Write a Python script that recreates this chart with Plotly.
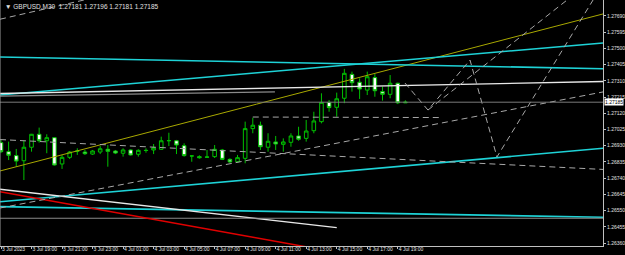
import plotly.graph_objects as go

# ---------------- data ----------------
symbol = "GBPUSD,M30"
bar_index = list(range(54))  # M30 bars from 3 Jul 2023 17:00 to 4 Jul 19:30
opens = [1.26948, 1.26895, 1.26872, 1.26842, 1.26921, 1.26997, 1.26959, 1.26977, 1.26823, 1.26862,
         1.26899, 1.26893, 1.26881, 1.26893, 1.26909, 1.26899, 1.26886, 1.26905, 1.26880, 1.26903,
         1.26905, 1.26909, 1.26959, 1.26959, 1.26930, 1.26870, 1.26866, 1.26864, 1.26866, 1.26905,
         1.26850, 1.26836, 1.26856, 1.27030, 1.27050, 1.26921, 1.26952, 1.26938, 1.26950, 1.26987,
         1.26973, 1.27018, 1.27071, 1.27184, 1.27155, 1.27208, 1.27348, 1.27302, 1.27256, 1.27329,
         1.27247, 1.27231, 1.27296, 1.27181]
highs = [1.26964, 1.26954, 1.26911, 1.26959, 1.26999, 1.27036, 1.26997, 1.26981, 1.26876, 1.26899,
         1.26915, 1.26905, 1.26905, 1.26928, 1.26934, 1.26905, 1.26915, 1.26909, 1.26909, 1.26915,
         1.26940, 1.26983, 1.27006, 1.26964, 1.26944, 1.26872, 1.26874, 1.26905, 1.26934, 1.26911,
         1.26856, 1.26876, 1.27071, 1.27094, 1.27071, 1.27003, 1.26987, 1.26973, 1.27003, 1.27041,
         1.27081, 1.27129, 1.27237, 1.27198, 1.27241, 1.27380, 1.27364, 1.27325, 1.27364, 1.27350,
         1.27276, 1.27344, 1.27299, 1.27196]
lows = [1.26887, 1.26846, 1.26807, 1.26729, 1.26895, 1.26948, 1.26886, 1.26814, 1.26794, 1.26852,
        1.26876, 1.26876, 1.26876, 1.26881, 1.26807, 1.26881, 1.26866, 1.26872, 1.26866, 1.26889,
        1.26881, 1.26905, 1.26928, 1.26881, 1.26866, 1.26836, 1.26854, 1.26860, 1.26858, 1.26846,
        1.26829, 1.26833, 1.26827, 1.27003, 1.26905, 1.26895, 1.26905, 1.26895, 1.26924, 1.26959,
        1.26954, 1.27003, 1.27061, 1.27129, 1.27100, 1.27179, 1.27247, 1.27204, 1.27227, 1.27217,
        1.27194, 1.27208, 1.27174, 1.27181]
closes = [1.26895, 1.26874, 1.26840, 1.26921, 1.26997, 1.26959, 1.26977, 1.26817, 1.26862, 1.26893,
          1.26898, 1.26883, 1.26899, 1.26912, 1.26897, 1.26887, 1.26905, 1.26876, 1.26903, 1.26902,
          1.26918, 1.26959, 1.26960, 1.26934, 1.26872, 1.26870, 1.26860, 1.26863, 1.26909, 1.26850,
          1.26835, 1.26860, 1.27030, 1.27050, 1.26924, 1.26956, 1.26940, 1.26952, 1.26987, 1.26968,
          1.27016, 1.27075, 1.27184, 1.27153, 1.27205, 1.27354, 1.27299, 1.27262, 1.27334, 1.27252,
          1.27231, 1.27296, 1.27181, 1.27185]

x_tick_bars = [0, 4, 8, 12, 16, 20, 24, 28, 32, 36, 40, 44, 48, 52]
x_tick_labels = ["3 Jul 2023", "3 Jul 19:00", "3 Jul 21:00", "3 Jul 23:00", "4 Jul 01:00",
                 "4 Jul 03:00", "4 Jul 05:00", "4 Jul 07:00", "4 Jul 09:00", "4 Jul 11:00",
                 "4 Jul 13:00", "4 Jul 15:00", "4 Jul 17:00", "4 Jul 19:00"]
y_tick_labels = ["1.27690", "1.27595", "1.27500", "1.27405", "1.27310", "1.27215", "1.27120",
                 "1.27025", "1.26930", "1.26835", "1.26740", "1.26645", "1.26550", "1.26455", "1.26360"]

# drawn objects: (bar index, price) endpoints
yellow_line = ([-0.13, 78.9], [1.26782, 1.27702])
cyan_lines = [([-0.13, 78.9], [1.27450, 1.27381]),
              ([-0.13, 78.9], [1.27227, 1.27532]),
              ([-0.13, 78.9], [1.26602, 1.26915]),
              ([-0.13, 78.9], [1.26573, 1.26511])]
white_lines = [([-0.13, 78.9], [1.27236, 1.27306]),
               ([-0.13, 44.0], [1.26675, 1.26450])]
grey_lines = [([-0.13, 35.9], [1.27221, 1.27245]),
              ([-0.13, 78.9], [1.26505, 1.26505])]
red_line = ([-0.13, 41.8], [1.26661, 1.26323])
dashed_lines = [([-0.13, 12.97], [1.27671, 1.27805]),
                ([-0.13, 78.9], [1.26966, 1.26791]),
                ([-0.13, 78.9], [1.26565, 1.27245]),
                ([33.0, 57.5], [1.27098, 1.27095]),
                ([52.95, 55.96, 61.47, 65.0, 77.6], [1.27297, 1.27139, 1.27432, 1.26864, 1.27784]),
                ([55.96, 74.2], [1.27139, 1.27784])]
bid_price = 1.27185

# ---------------- figure ----------------
fig = go.Figure()

def add_line(xs, ys, color, width=1.0, dash="solid"):
    fig.add_trace(go.Scatter(x=xs, y=ys, mode="lines", hoverinfo="skip", showlegend=False,
                             line=dict(color=color, width=width, dash=dash)))

add_line(*yellow_line, "#a8a800", 1)
for xs, ys in cyan_lines:
    add_line(xs, ys, "#1ed2d6", 1.6)
for xs, ys in white_lines:
    add_line(xs, ys, "#e8e8e8", 1.4)
for xs, ys in grey_lines:
    add_line(xs, ys, "#8a8a8a", 1.2)
add_line(*red_line, "#e00000", 1.5)
for xs, ys in dashed_lines:
    add_line(xs, ys, "#a8a8a8", 1, "6px,4px")
add_line([-0.13, 78.9], [bid_price, bid_price], "#7a7a7a", 1)

fig.add_trace(go.Candlestick(
    x=bar_index, open=opens, high=highs, low=lows, close=closes,
    increasing=dict(line=dict(color="#00c000", width=1), fillcolor="#000000"),
    decreasing=dict(line=dict(color="#00c000", width=1), fillcolor="#ffffff"),
    whiskerwidth=0, showlegend=False, hoverinfo="skip"))

title = "▼ {}  {:.5f} {:.5f} {:.5f} {:.5f}".format(symbol, opens[-1], highs[-1], lows[-1], closes[-1])
fig.add_annotation(text=title, xref="paper", yref="paper", x=0.005, y=1.0, xanchor="left",
                   yanchor="top", showarrow=False, font=dict(size=6.5, color="#e0e0e0",
                   family="Liberation Sans"), yshift=-1)
fig.add_annotation(text="{:.5f}".format(bid_price), xref="paper", yref="y", x=1.0, y=bid_price,
                   xanchor="left", yanchor="middle", showarrow=False, bgcolor="#ffffff",
                   font=dict(size=5, color="#000000", family="Liberation Sans"),
                   borderpad=0, xshift=1)
fig.add_shape(type="line", xref="paper", yref="paper", x0=0, x1=0, y0=0, y1=1,
              line=dict(color="#9a9a9a", width=1))

tick_font = dict(size=5, color="#e0e0e0", family="Liberation Sans")
fig.update_layout(
    width=625, height=255, margin=dict(l=0, r=22, t=0, b=9),
    paper_bgcolor="#000000", plot_bgcolor="#000000",
    boxgap=0.33,
    xaxis=dict(range=[-0.131, 78.9], showgrid=False, zeroline=False, rangeslider=dict(visible=False),
               tickmode="array", tickvals=x_tick_bars, ticktext=x_tick_labels, tickangle=0,
               ticks="outside", ticklen=2, tickcolor="#c0c0c0", ticklabelposition="outside right",
               ticklabelstandoff=-2,
               showline=True, linecolor="#c0c0c0", linewidth=1,
               tickfont=tick_font, automargin=False, fixedrange=True),
    yaxis=dict(range=[1.263424, 1.277837], side="right", showgrid=False, zeroline=False,
               tickmode="array", tickvals=[float(s) for s in y_tick_labels], ticktext=y_tick_labels,
               ticks="outside", ticklen=2, tickcolor="#c0c0c0", ticklabelstandoff=0,
               showline=True, linecolor="#c0c0c0", linewidth=1,
               tickfont=tick_font, automargin=False, fixedrange=True),
)

fig.write_html("out.html")
